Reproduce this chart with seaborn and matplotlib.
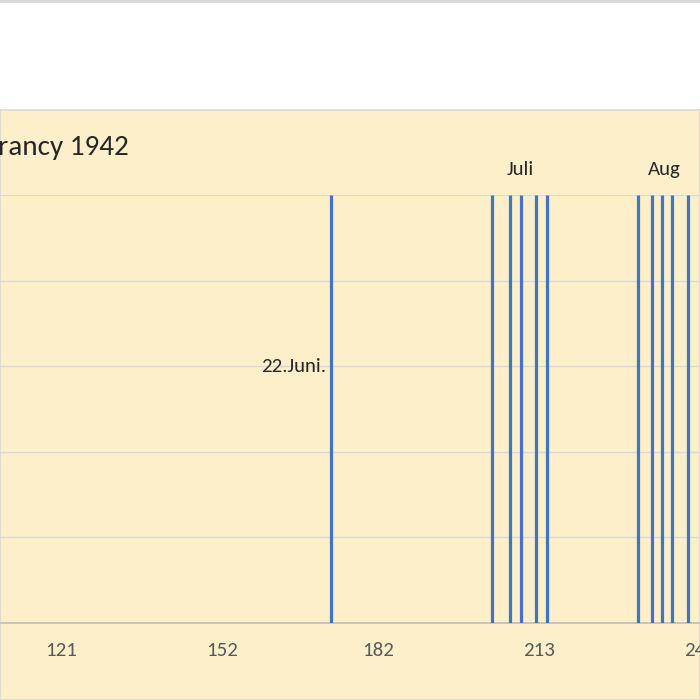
import matplotlib
matplotlib.use('AGG')
import matplotlib.pyplot as plt
import seaborn as sns
import pandas as pd

# day-of-year of each transport
days = [173, 204, 207.5, 209.5, 212.5, 214.5, 232, 234.7, 236.6, 238.7, 241.6]
heights = [5] * len(days)
xticks = [121, 152, 182, 213, 244]
labels = [("22.Juni.", 172, 3.0, "right"), ("Juli", 209.5, 5.3, "center"), ("Aug", 234, 5.3, "left")]

sns.set_theme(style="white")
plt.rcParams['font.family'] = ['Carlito', 'DejaVu Sans']

fig = plt.figure(figsize=(7, 7), dpi=100)
# chart-area background
bg = fig.add_axes([0, 0, 1, 1 - 110 / 700], zorder=-2)
bg.set_facecolor("#fdefc9")
bg.set_xticks([])
bg.set_yticks([])
for s in bg.spines.values():
    s.set_color("#d9d9d9")
top = fig.add_axes([0, 0.996, 1, 0.004], zorder=-2)
top.set_facecolor("#d9d9d9")
top.axis("off")
top.add_patch(plt.Rectangle((0, 0), 1, 1, color="#d9d9d9"))

ax = fig.add_axes([0, 1 - 623 / 700, 1, (623 - 195) / 700])
ax.set_facecolor("none")

df = pd.DataFrame({"day": days, "h": heights})
ax.vlines(df["day"], 0, df["h"], color="#4472c4", lw=2.3, zorder=3)

ax.set_xlim(109.3, 243.9)
ax.set_ylim(0, 5)
ax.set_yticks(range(6))
ax.set_yticklabels([])
ax.yaxis.grid(True, color="#d9d9d9", lw=1)
ax.set_xticks(xticks)
ax.set_xticklabels([str(t) for t in xticks], color="#595959", fontsize=15)
ax.tick_params(axis="x", length=0, pad=14)
for s in ["top", "left", "right"]:
    ax.spines[s].set_visible(False)
ax.spines["bottom"].set_color("#bfbfbf")

for txt, x, y, ha in labels:
    ax.text(x, y, txt, ha=ha, va="center", fontsize=15, color="#262626", clip_on=False)

fig.text(-0.003, 1 - 148 / 700, "rancy 1942", fontsize=21, color="#262626", va="center", ha="left")

fig.savefig("out.png", dpi=100)
